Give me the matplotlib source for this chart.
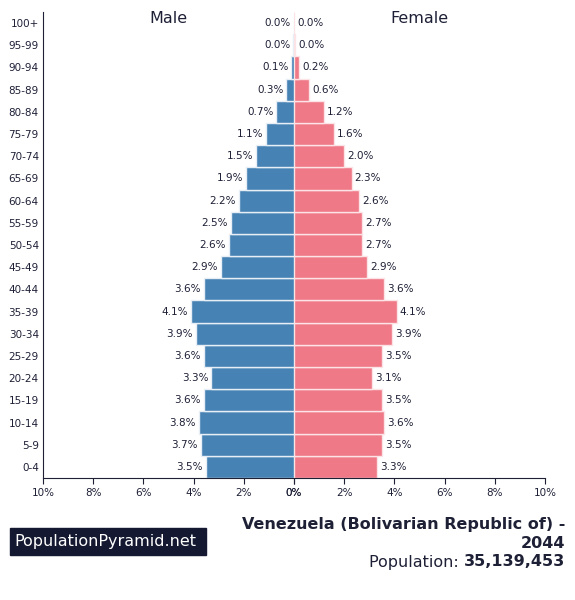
import matplotlib
matplotlib.use('Agg')
import matplotlib.pyplot as plt
from matplotlib.patches import Rectangle

ages = ['0-4', '5-9', '10-14', '15-19', '20-24', '25-29', '30-34', '35-39',
        '40-44', '45-49', '50-54', '55-59', '60-64', '65-69', '70-74',
        '75-79', '80-84', '85-89', '90-94', '95-99', '100+']
male = [3.5, 3.7, 3.8, 3.6, 3.3, 3.6, 3.9, 4.1, 3.6, 2.9, 2.6, 2.5, 2.2,
        1.9, 1.5, 1.1, 0.7, 0.3, 0.1, 0.02, 0.0]
female = [3.3, 3.5, 3.6, 3.5, 3.1, 3.5, 3.9, 4.1, 3.6, 2.9, 2.7, 2.7, 2.6,
          2.3, 2.0, 1.6, 1.2, 0.6, 0.2, 0.04, 0.01]
male_labels = ['3.5%', '3.7%', '3.8%', '3.6%', '3.3%', '3.6%', '3.9%', '4.1%',
               '3.6%', '2.9%', '2.6%', '2.5%', '2.2%', '1.9%', '1.5%', '1.1%',
               '0.7%', '0.3%', '0.1%', '0.0%', '0.0%']
female_labels = ['3.3%', '3.5%', '3.6%', '3.5%', '3.1%', '3.5%', '3.9%', '4.1%',
                 '3.6%', '2.9%', '2.7%', '2.7%', '2.6%', '2.3%', '2.0%', '1.6%',
                 '1.2%', '0.6%', '0.2%', '0.0%', '0.0%']
xticks = [0, 2, 4, 6, 8, 10]
xtick_labels = ['0%', '2%', '4%', '6%', '8%', '10%']

txt = '#1e2036'
blue = '#4682b4'
pink = '#ef7986'

fig = plt.figure(figsize=(5.75, 6.0), dpi=100)
axl = fig.add_axes([43/575, 1-478/600, 251/575, 466/600])
axr = fig.add_axes([294/575, 1-478/600, 251/575, 466/600])

y = list(range(len(ages)))
axl.barh(y, male, height=1.0, color=blue, edgecolor='#e8eef5', linewidth=1)
axr.barh(y, female, height=1.0, color=pink, edgecolor='#fbe3e6', linewidth=1)

for i in y:
    axl.text(male[i] + 0.12, i, male_labels[i], ha='right', va='center',
             fontsize=7.5, color=txt)
    axr.text(female[i] + 0.12, i, female_labels[i], ha='left', va='center',
             fontsize=7.5, color=txt)

for ax in (axl, axr):
    ax.set_ylim(-0.5, len(ages) - 0.5)
    ax.set_xticks(xticks)
    ax.set_xticklabels(xtick_labels)
    ax.tick_params(axis='x', labelsize=7.5, colors=txt, length=4)
    ax.spines['top'].set_visible(False)
    ax.spines['right'].set_visible(False)
    ax.spines['bottom'].set_color(txt)

axl.set_xlim(10, 0)
axr.set_xlim(0, 10)
axl.set_yticks(y)
axl.set_yticklabels(ages)
axl.tick_params(axis='y', labelsize=7.5, colors=txt, length=0, pad=3)
axl.spines['left'].set_color(txt)
axr.spines['left'].set_visible(False)
axr.set_yticks([])

axl.text(0.5, 0.985, 'Male', transform=axl.transAxes, ha='center',
         va='center', fontsize=11.5, color=txt)
axr.text(0.5, 0.985, 'Female', transform=axr.transAxes, ha='center',
         va='center', fontsize=11.5, color=txt)

# logo box
fig.patches.append(Rectangle((10/575, 1-555/600), 196/575, 27/600,
                             transform=fig.transFigure, color='#141830'))
fig.text(14/575, 1-541.5/600, 'PopulationPyramid.net', color='white',
         fontsize=11.5, va='center', ha='left')

fig.text(565/575, 1-524/600, 'Venezuela (Bolivarian Republic of) -',
         ha='right', va='center', fontsize=11.5, fontweight='bold', color=txt)
fig.text(565/575, 1-543/600, '2044', ha='right', va='center',
         fontsize=11.5, fontweight='bold', color=txt)
num = fig.text(565/575, 1-562/600, '35,139,453', ha='right', va='center',
               fontsize=11.5, fontweight='bold', color=txt)
fig.canvas.draw()
bb = num.get_window_extent()
fig.text(bb.x0 / fig.bbox.width, 1-562/600, 'Population: ', ha='right',
         va='center', fontsize=11.5, color=txt)

plt.savefig('out.png', dpi=100)
